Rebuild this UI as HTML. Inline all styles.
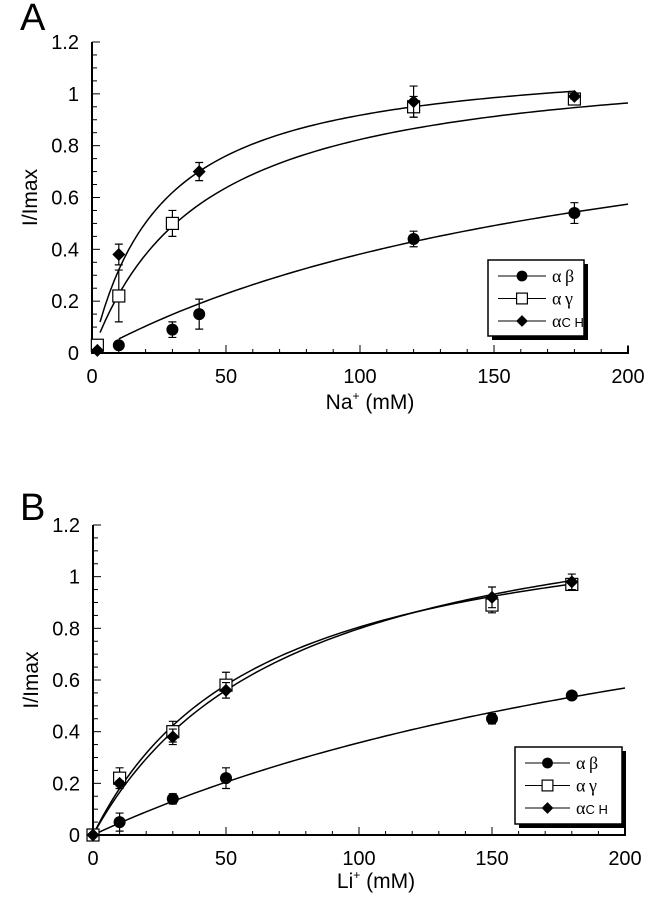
<!DOCTYPE html>
<html><head><meta charset="utf-8">
<style>
body{margin:0;background:#fff;}
svg{display:block;font-family:"Liberation Sans",sans-serif;}
</style></head>
<body>
<svg id="fig" width="647" height="899" viewBox="0 0 647 899"></svg>
<script>
// ----- Panel A data (Na+) -----
const xA_ab = [10, 30, 40, 120, 180];
const yA_ab = [0.03, 0.09, 0.15, 0.44, 0.54];
const eA_ab = [0.012, 0.03, 0.058, 0.03, 0.04];
const xA_ay = [2, 10, 30, 120, 180];
const yA_ay = [0.03, 0.22, 0.50, 0.95, 0.98];
const eA_ay = [0.01, 0.10, 0.05, 0.04, 0.01];
const xA_ch = [2, 10, 40, 120, 180];
const yA_ch = [0.01, 0.38, 0.70, 0.97, 0.99];
const eA_ch = [0.005, 0.04, 0.035, 0.06, 0.01];
const fitA_K = [204, 41.3, 26];
const fitA_V = [1.16, 1.164, 1.156];
const fitA_range = [[10, 200], [3, 200], [3, 180]];
// ----- Panel B data (Li+) -----
const xB_ab = [0, 10, 30, 50, 150, 180];
const yB_ab = [0, 0.05, 0.14, 0.22, 0.45, 0.54];
const eB_ab = [0, 0.035, 0.02, 0.04, 0.02, 0.01];
const xB_ay = [0, 10, 30, 50, 150, 180];
const yB_ay = [0, 0.22, 0.40, 0.58, 0.89, 0.97];
const eB_ay = [0, 0.04, 0.04, 0.05, 0.03, 0.01];
const xB_ch = [0, 10, 30, 50, 150, 180];
const yB_ch = [0, 0.20, 0.38, 0.56, 0.92, 0.98];
const eB_ch = [0, 0.01, 0.03, 0.03, 0.04, 0.03];
const fitB_K = [292, 62.8, 74.2];
const fitB_V = [1.40, 1.31, 1.391];
const fitB_range = [[0, 200], [0, 180], [0, 180]];
const xTicks = [0, 50, 100, 150, 200];
const yTicks = [0, 0.2, 0.4, 0.6, 0.8, 1, 1.2];
const yTickLabels = ["0", "0.2", "0.4", "0.6", "0.8", "1", "1.2"];
const legendLabels = ["\u03B1\u2009\u03B2", "\u03B1\u2009\u03B3", "\u03B1"];

const NS = "http://www.w3.org/2000/svg";
const svg = document.getElementById("fig");
function mk(tag, attrs, parent) {
  const e = document.createElementNS(NS, tag);
  for (const k in attrs) e.setAttribute(k, attrs[k]);
  (parent || svg).appendChild(e);
  return e;
}

function marker(g, kind, cx, cy, s) {
  let m;
  if (kind === 0) m = mk("circle", {cx: cx, cy: cy, r: 6 * s, fill: "#000"}, g);
  else if (kind === 1) m = mk("rect", {x: cx - 6 * s, y: cy - 6 * s, width: 12 * s, height: 12 * s, fill: "#fff", stroke: "#000", "stroke-width": 1.2}, g);
  else m = mk("polygon", {points: `${cx},${cy - 6.5 * s} ${cx + 6.5 * s},${cy} ${cx},${cy + 6.5 * s} ${cx - 6.5 * s},${cy}`, fill: "#000"}, g);
  return m;
}

function panel(cfg) {
  const g = mk("g", {});
  
  
  const X = v => cfg.x0 + (v / 200) * (cfg.x1 - cfg.x0);
  const Y = v => cfg.y0 - (v / 1.2) * (cfg.y0 - cfg.y1);
  const lt = mk("text", {x: cfg.letterX, y: cfg.letterY, "font-size": 38}, g);
  lt.textContent = cfg.letter;
  
  
  const ax = mk("path", {d: `M${cfg.x0},${cfg.y1} V${cfg.y0} H${cfg.x1} v-7`, fill: "none", stroke: "#000", "stroke-width": 2}, g);
  
  
  for (let v = 0; v <= 1.2001; v += 0.05) {
    const major = Math.abs(v * 5 - Math.round(v * 5)) < 1e-6;
    mk("line", {x1: cfg.x0, x2: cfg.x0 + (major ? 8 : 5), y1: Y(v), y2: Y(v), stroke: "#000", "stroke-width": 1}, g);
  }
  yTicks.forEach((v, i) => {
    const t = mk("text", {x: cfg.x0 - 13, y: Y(v) + 7, "font-size": 20, "text-anchor": "end"}, g);
    t.textContent = yTickLabels[i];
    
    
  });
  for (let v = 10; v <= 200; v += 10) {
    const major = v % 50 === 0;
    mk("line", {x1: X(v), x2: X(v), y1: cfg.y0, y2: cfg.y0 - (major ? 8 : 4), stroke: "#000", "stroke-width": 1}, g);
  }
  xTicks.forEach(v => {
    const t = mk("text", {x: X(v), y: cfg.y0 + 30, "font-size": 20, "text-anchor": "middle"}, g);
    t.textContent = String(v);
    
    
  });
  const yt = mk("text", {x: 0, y: 0, "font-size": 21, "text-anchor": "middle", transform: `translate(${cfg.x0 - 55},${(cfg.y0 + cfg.y1) / 2}) rotate(-90)`}, g);
  yt.textContent = "I/Imax";
  
  
  const xt = mk("text", {x: cfg.xTitleX, y: cfg.xTitleY, "font-size": 21, "text-anchor": "middle"}, g);
  
  
  xt.innerHTML = cfg.xTitle + '<tspan dy="-9" font-size="12">+</tspan><tspan dy="9"> (mM)</tspan>';
  const names = ["ab", "ay", "ch"];
  for (let s = 0; s < 3; s++) {
    let d = "";
    const [a, b] = cfg.range[s];
    for (let i = 0; i <= 100; i++) {
      const xv = a + (b - a) * i / 100;
      const yv = cfg.V[s] * xv / (cfg.K[s] + xv);
      d += (i ? "L" : "M") + X(xv).toFixed(2) + "," + Y(yv).toFixed(2);
    }
    const p = mk("path", {d: d, fill: "none", stroke: "#000", "stroke-width": 1.5}, g);
    
    
  }
  for (let s = 0; s < 3; s++) {
    const xs = cfg.xs[s], ys = cfg.ys[s], es = cfg.es[s];
    xs.forEach((xv, i) => {
      const cx = X(xv), cy = Y(ys[i]);
      if (es[i] > 0.004) {
        const eb = mk("path", {d: `M${cx},${Y(ys[i] - es[i])} V${Y(ys[i] + es[i])} M${cx - 4},${Y(ys[i] - es[i])} h8 M${cx - 4},${Y(ys[i] + es[i])} h8`, stroke: "#000", "stroke-width": 1.2, fill: "none"}, g);
        
        
      }
      const m = marker(g, s, cx, cy, 1);
      
      
    });
  }
  const L = cfg.leg;
  const lg = mk("g", {}, g);
  
  
  mk("rect", {x: L.x + 4, y: L.y + 4, width: L.w, height: L.h, fill: "#000"}, lg);
  mk("rect", {x: L.x, y: L.y, width: L.w, height: L.h, fill: "#fff", stroke: "#000", "stroke-width": 1.5}, lg);
  for (let s = 0; s < 3; s++) {
    const ry = L.y + 16 + s * 22.5;
    const e = mk("g", {}, lg);
    
    
    mk("line", {x1: L.x + 10, x2: L.x + 10 + L.lw, y1: ry, y2: ry, stroke: "#000", "stroke-width": 1}, e);
    marker(e, s, L.x + 10 + L.lw / 2, ry, 0.9);
    const t = mk("text", {x: L.x + L.lw + 16, y: ry + 6, "font-size": 18, "font-family": "Liberation Serif, serif"}, e);
    t.textContent = legendLabels[s];
    if (s === 2) {
      const sub = mk("tspan", {"font-size": 13, "font-family": "Liberation Sans, sans-serif", dy: 0}, t);
      sub.textContent = "C H";
    }
  }
}

panel({name: "panel-a-na", letter: "A", letterX: 20, letterY: 30, x0: 92, x1: 628, y0: 353, y1: 42,
  xTitle: "Na", xTitleX: 370, xTitleY: 409,
  xs: [xA_ab, xA_ay, xA_ch], ys: [yA_ab, yA_ay, yA_ch], es: [eA_ab, eA_ay, eA_ch],
  K: fitA_K, V: fitA_V, range: fitA_range,
  leg: {x: 488, y: 260, w: 96, h: 76, lw: 48}});
panel({name: "panel-b-li", letter: "B", letterX: 20, letterY: 520, x0: 93, x1: 625, y0: 835, y1: 525,
  xTitle: "Li", xTitleX: 376, xTitleY: 888,
  xs: [xB_ab, xB_ay, xB_ch], ys: [yB_ab, yB_ay, yB_ch], es: [eB_ab, eB_ay, eB_ch],
  K: fitB_K, V: fitB_V, range: fitB_range,
  leg: {x: 515, y: 747, w: 107, h: 77, lw: 45}});
</script>
</body></html>
